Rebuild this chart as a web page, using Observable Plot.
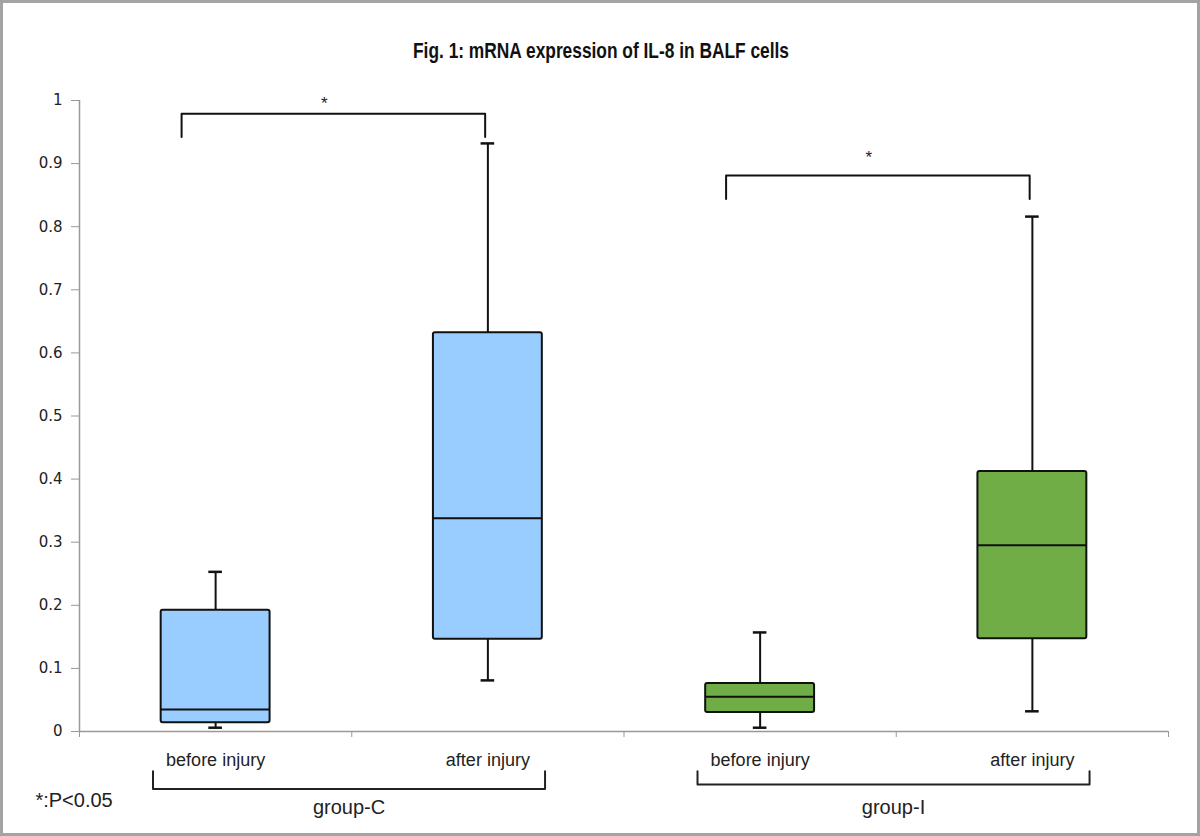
<!DOCTYPE html>
<html>
<head>
<meta charset="utf-8">
<script src="https://cdn.jsdelivr.net/npm/d3@7"></script>
<script src="https://cdn.jsdelivr.net/npm/@observablehq/plot@0.6"></script>
<style>
  html, body { margin: 0; padding: 0; background: #fff; }
  #chart svg { display: block; outline: 3px solid #a3a3a3; outline-offset: -3px; }
</style>
</head>
<body>
<div id="chart"></div>
<script>
// ---- data ----
const title = "Fig. 1: mRNA expression of IL-8 in BALF cells";
const categories = ["C-before", "C-after", "I-before", "I-after"];
const tickLabels = ["before injury", "after injury", "before injury", "after injury"];
const groupNames = ["group-C", "group-I"];
const groupMembers = [[0, 1], [2, 3]];
const whiskerLow  = [0.006, 0.081, 0.006, 0.032];
const q1          = [0.014, 0.146, 0.030, 0.147];
const median      = [0.035, 0.338, 0.055, 0.295];
const q3          = [0.192, 0.632, 0.076, 0.412];
const whiskerHigh = [0.253, 0.932, 0.157, 0.816];
const boxColors   = ["#99CCFF", "#99CCFF", "#70AD47", "#70AD47"];
const sigPairs    = [[0, 1], [2, 3]];
const sigLevel    = [0.979, 0.881];
const sigStarY    = [0.995, 0.910];
const sigLabel    = "*";
const footnote    = "*:P<0.05";
const yTicks      = [0, 0.1, 0.2, 0.3, 0.4, 0.5, 0.6, 0.7, 0.8, 0.9, 1];

// ---- derived tables ----
const idx = categories.map((_, i) => i);
const center = (i) => i + 0.5;
const halfBox = 0.2, halfCap = 0.025;

const sigPaths = sigPairs.flatMap(([a, b], k) => {
  const l = center(a) - 0.125, r = center(b) - 0.01, top = sigLevel[k], low = sigLevel[k] - 0.037;
  return [
    {k, x: l, y: low}, {k, x: l, y: top}, {k, x: r, y: top}, {k, x: r, y: low}
  ];
});
const sigStars = sigPairs.map(([a, b], k) => ({
  x: (center(a) - 0.125) + 0.47 * ((center(b) - 0.01) - (center(a) - 0.125)), y: sigStarY[k]
}));

const gLegTop = -0.063, gText = -0.120;
const gLine = [-0.091, -0.084];
const groupPaths = groupMembers.flatMap((m, k) => {
  const l = center(m[0]) - 0.23, r = center(m[m.length - 1]) + 0.21;
  return [
    {k, x: l, y: gLegTop}, {k, x: l, y: gLine[k]}, {k, x: r, y: gLine[k]}, {k, x: r, y: gLegTop}
  ];
});
const groupLabels = groupMembers.map((m, k) => ({
  name: groupNames[k],
  x: ((center(m[0]) - 0.23) + (center(m[m.length - 1]) + 0.21)) / 2
}));

const chart = Plot.plot({
  width: 1200,
  height: 836,
  marginTop: 100,
  marginBottom: 105,
  marginLeft: 79,
  marginRight: 32,
  style: { fontFamily: "'Liberation Sans', Arial, sans-serif", background: "#fff" },
  x: { type: "linear", domain: [0, categories.length], axis: null },
  y: { domain: [0, 1], axis: null },
  marks: [
    // axes
    Plot.axisY({ticks: yTicks, tickFormat: d => String(+d.toFixed(1)), tickSize: 8, tickPadding: 9,
      fontSize: 15, fontFamily: "'DejaVu Sans', sans-serif", stroke: "#999", fill: "#222", label: null}),
    Plot.axisX({ticks: d3.range(0, categories.length + 1), tickFormat: () => "", tickSize: 6,
      stroke: "#999", label: null}),
    Plot.ruleX([0], {y1: 0, y2: 1, stroke: "#999", strokeWidth: 1.5}),
    Plot.ruleY([0], {stroke: "#999", strokeWidth: 1.5}),
    // whiskers
    Plot.ruleX(idx, {x: center, y1: i => q3[i], y2: i => whiskerHigh[i], stroke: "#111", strokeWidth: 2}),
    Plot.ruleX(idx, {x: center, y1: i => whiskerLow[i], y2: i => q1[i], stroke: "#111", strokeWidth: 2}),
    Plot.ruleY(idx, {y: i => whiskerHigh[i], x1: i => center(i) - halfCap, x2: i => center(i) + halfCap, stroke: "#111", strokeWidth: 2.5}),
    Plot.ruleY(idx, {y: i => whiskerLow[i], x1: i => center(i) - halfCap, x2: i => center(i) + halfCap, stroke: "#111", strokeWidth: 2.5}),
    // boxes
    Plot.rect(idx, {x1: i => center(i) - halfBox, x2: i => center(i) + halfBox, y1: i => q1[i], y2: i => q3[i],
      fill: i => boxColors[i], stroke: "#111", strokeWidth: 2, rx: 2}),
    Plot.ruleY(idx, {y: i => median[i], x1: i => center(i) - halfBox, x2: i => center(i) + halfBox, stroke: "#111", strokeWidth: 2}),
    // significance brackets
    Plot.line(sigPaths, {x: "x", y: "y", z: "k", stroke: "#111", strokeWidth: 2, curve: "linear"}),
    Plot.text(sigStars, {x: "x", y: "y", text: () => sigLabel, fontSize: 17, fill: "#222"}),
    // category labels
    Plot.text(idx, {x: center, y: 0, dy: 29, text: i => tickLabels[i], fontSize: 18, fill: "#222"}),
    // group brackets
    Plot.line(groupPaths, {x: "x", y: "y", z: "k", stroke: "#222", strokeWidth: 2}),
    Plot.text(groupLabels, {x: "x", y: gText, text: "name", fontSize: 20, fill: "#222"}),
    // footnote
    Plot.text([footnote], {x: -0.162, y: -0.109, textAnchor: "start", fontSize: 20, fill: "#222"}),
    // title
    Plot.text([title], {frameAnchor: "top", dx: -23, dy: -58, fontSize: 22, fontWeight: "bold",
      fontFamily: "'Liberation Sans Narrow', 'Arial Narrow', 'Liberation Sans', sans-serif", fill: "#111"})
  ]
});
// condense the title to the reference's narrow face
d3.select(chart).selectAll("text").filter(function() { return this.textContent === title; })
  .attr("textLength", 376).attr("lengthAdjust", "spacingAndGlyphs");
document.getElementById("chart").appendChild(chart);
</script>
</body>
</html>
